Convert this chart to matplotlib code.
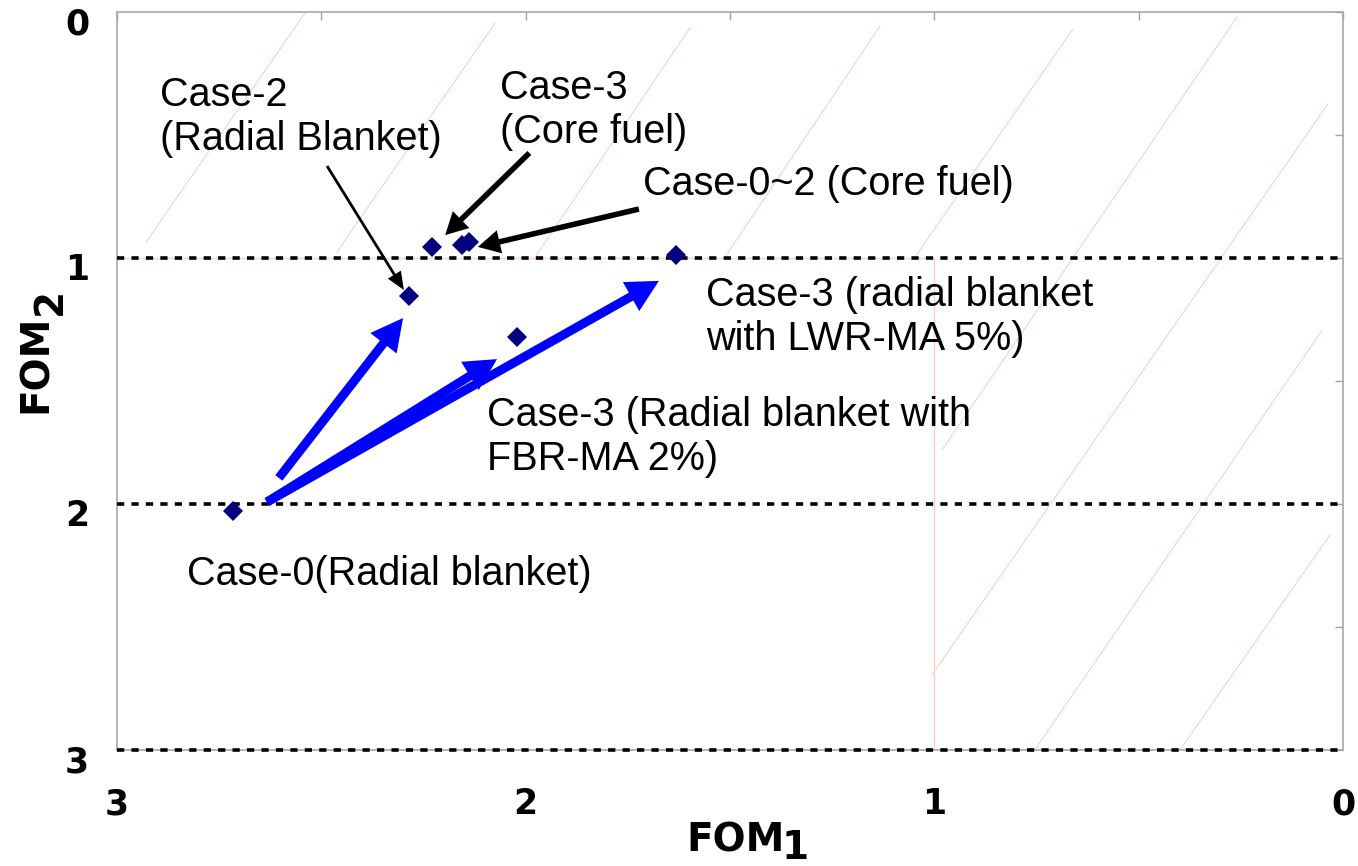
import matplotlib
matplotlib.use("Agg")
import matplotlib.pyplot as plt
from matplotlib.patches import FancyArrowPatch
from matplotlib.transforms import ScaledTranslation

# core / blanket cases (FOM1, FOM2)
fom1 = [2.716, 2.286, 2.229, 2.155, 2.138, 2.021, 1.632]
fom2 = [2.028, 1.154, 0.955, 0.947, 0.935, 1.321, 0.988]

limit_levels = [1, 2, 3]
ticks = [0, 1, 2, 3]

# blue trend arrows (tail -> head)
trend_x0 = [2.604, 2.633, 2.633]
trend_y0 = [1.894, 1.992, 1.992]
trend_x1 = [2.300, 1.674, 2.070]
trend_y1 = [1.244, 1.093, 1.411]

# annotation texts, anchored at left end of the last baseline
notes = ["Case-2\n(Radial Blanket)",
         "Case-3\n(Core fuel)",
         "Case-0~2 (Core fuel)",
         "Case-3 (radial blanket\nwith LWR-MA 5%)",
         "Case-3 (Radial blanket with\nFBR-MA 2%)",
         "Case-0(Radial blanket)"]
note_x = [2.895, 2.063, 1.713, 1.559, 2.095, 2.829]
note_y = [0.561, 0.533, 0.744, 1.374, 1.862, 2.329]

# black pointers (tail -> head)
ptr_x0 = [2.486, 1.991, 1.723]
ptr_y0 = [0.626, 0.573, 0.801]
ptr_x1 = [2.298, 2.197, 2.117]
ptr_y1 = [1.130, 0.907, 0.955]

# faint pink hatching of the target region
hatch_x0 = [2.929, 2.462, 1.977, 1.512, 1.047, 0.259, 0.037, 0.051, 0.032]
hatch_y0 = [0.935, 0.976, 0.996, 0.996, 0.996, 0.020, 0.374, 1.293, 2.126]
hatch_x1 = [2.540, 2.075, 1.598, 1.133, 0.661, 0.981, 1.006, 0.754, 0.399]
hatch_y1 = [0.004, 0.045, 0.065, 0.057, 0.069, 1.780, 2.695, 3.000, 3.000]


def main():
    fig = plt.figure(figsize=(13.58, 8.66), dpi=100)
    ax = fig.add_axes([117 / 1358, 1 - 750 / 866, 1226 / 1358, 738 / 866])
    ax.set_xlim(3, 0)
    ax.set_ylim(3, 0)

    pink = "#ffbcbc"
    for x0, y0, x1, y1 in zip(hatch_x0, hatch_y0, hatch_x1, hatch_y1):
        ax.plot([x0, x1], [y0, y1], color=pink, lw=0.6, zorder=1)
    ax.plot([3, 1, 1], [1, 1, 3], color="#ffcccc", lw=1.0, zorder=1)

    for lv in limit_levels:
        ax.axhline(lv, color="black", lw=2.6, ls=(0, (2.0, 2.0)), zorder=3,
                   clip_on=False)

    for x0, y0, x1, y1 in zip(trend_x0, trend_y0, trend_x1, trend_y1):
        ax.add_patch(FancyArrowPatch((x0, y0), (x1, y1),
                                     arrowstyle="simple,head_length=2.3,head_width=2.4,tail_width=0.65",
                                     mutation_scale=10, color="#0000ff", lw=0,
                                     shrinkA=0, shrinkB=0, zorder=3))

    ptr_styles = ["simple,head_length=1.3,head_width=1.1,tail_width=0.2",
                  "simple,head_length=1.6,head_width=1.7,tail_width=0.4",
                  "simple,head_length=1.6,head_width=1.7,tail_width=0.4"]
    for x0, y0, x1, y1, st in zip(ptr_x0, ptr_y0, ptr_x1, ptr_y1, ptr_styles):
        ax.add_patch(FancyArrowPatch((x0, y0), (x1, y1), arrowstyle=st,
                                     mutation_scale=10, color="black", lw=0,
                                     shrinkA=0, shrinkB=0, zorder=4))

    ax.plot(fom1, fom2, ls="none", marker="D", ms=10, color="#000080",
            markeredgewidth=0, zorder=5)

    for txt, x, y in zip(notes, note_x, note_y):
        ax.text(x, y, txt, fontsize=28.5, family="Liberation Sans",
                ha="left", va="baseline", linespacing=1.2, zorder=6)

    ax.set_xticks(ticks)
    ax.set_yticks(ticks)
    ax.set_xticks([0.5, 1.5, 2.5], minor=True)
    ax.set_yticks([0.5, 1.5, 2.5], minor=True)
    ax.tick_params(which="both", bottom=False, left=False, top=True, right=True,
                   direction="in", length=6, width=1, color="#a0a0a0")
    ax.tick_params(axis="x", which="major", pad=27, labelsize=25)
    ax.tick_params(axis="y", which="major", pad=20, labelsize=25)
    for lab in ax.get_xticklabels() + ax.get_yticklabels():
        lab.set_fontweight("bold")
    shift = ScaledTranslation(0, -0.09, fig.dpi_scale_trans)
    for lab in ax.get_yticklabels():
        lab.set_transform(lab.get_transform() + shift)

    for sp in ax.spines.values():
        sp.set_color("#a8a8a8")
        sp.set_linewidth(1.2)

    # axis titles with full-size subscripts
    fig.text(686 / 1358, 1 - 852 / 866, "FOM", fontsize=28, fontweight="bold",
             ha="left", va="baseline")
    fig.text(782 / 1358, 1 - 859 / 866, "1", fontsize=28, fontweight="bold",
             ha="left", va="baseline")
    fig.text(47 / 1358, 1 - 413 / 866, "FOM", fontsize=28, fontweight="bold",
             rotation=90, rotation_mode="anchor", ha="left", va="baseline")
    fig.text(61 / 1358, 1 - 315 / 866, "2", fontsize=28, fontweight="bold",
             rotation=90, rotation_mode="anchor", ha="left", va="baseline")

    fig.savefig("out.png", dpi=100)


if __name__ == "__main__":
    main()
